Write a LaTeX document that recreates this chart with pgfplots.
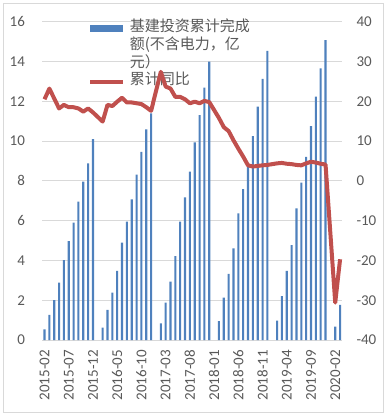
\documentclass[border=0pt]{standalone}
\usepackage{pgfplots}
\usepackage{pgfplotstable}
\pgfplotsset{compat=1.18}
\usepackage{fontspec}
\setmainfont{Carlito}
\newfontfamily\cjk{Noto Sans CJK SC}
\definecolor{barblue}{RGB}{79,129,189}
\definecolor{linered}{RGB}{192,80,77}
\definecolor{gridgray}{RGB}{217,217,217}
\definecolor{txtgray}{RGB}{89,89,89}

\pgfplotstableread{
x y
0 0.54
1 1.26
2 2.00
3 2.88
4 4.02
5 4.97
6 5.90
7 6.95
8 7.96
9 8.88
10 10.10
12 0.62
13 1.51
14 2.38
15 3.47
16 4.89
17 5.95
18 7.07
19 8.31
20 9.46
21 10.59
22 11.39
24 0.84
25 1.88
26 2.93
27 4.22
28 5.95
29 7.17
30 8.46
31 9.93
32 11.31
33 12.68
34 13.99
36 0.95
37 2.13
38 3.32
39 4.61
40 6.37
41 7.59
42 8.71
43 10.25
44 11.73
45 13.12
46 14.53
48 0.97
49 2.21
50 3.48
51 4.77
52 6.62
53 7.91
54 9.21
55 10.75
56 12.23
57 13.65
58 15.08
60 0.67
61 1.76
}\bardata

\pgfplotstableread{
x y
0 20.5
1 23.2
2 20.7
3 18.2
4 19.1
5 18.5
6 18.5
7 18.2
8 17.4
9 18.2
10 17.2
12 14.9
13 19.1
14 18.8
15 19.9
16 20.9
17 19.7
18 19.7
19 19.5
20 19.3
21 18.5
22 17.6
24 27.4
25 23.7
26 23.2
27 21.1
28 21.1
29 20.5
30 19.5
31 19.9
32 19.5
33 20.1
34 19.8
36 15.8
37 13.5
38 12.5
39 10.2
40 8.1
41 6.1
42 3.9
43 3.6
44 3.75
45 3.9
46 4.0
48 4.4
49 4.5
50 4.3
51 4.2
52 4.0
53 3.9
54 4.4
55 4.8
56 4.6
57 4.3
58 4.1
60 -30.6
61 -19.7
}\linedata

\pgfplotsset{
  common/.style={
    at={(0,0)}, anchor=south west,
    scale only axis, width=300.4bp, height=318.3bp,
    xmin=-0.5, xmax=61.5,
    axis line style={draw=none},
    major tick length=0pt,
    tick label style={font=\fontsize{15bp}{18bp}\selectfont, text=txtgray},
    /pgf/number format/assume math mode=true,
  }
}

\begin{document}
\begin{tikzpicture}
\useasboundingbox (-42.1bp,-78bp) rectangle (344.9bp,340bp);
\draw[gridgray, line width=0.8bp] (-39.1bp,-72bp) rectangle (340.9bp,337bp);
\begin{axis}[common,
  ymin=0, ymax=16, ytick={0,2,...,16},
  ymajorgrids, grid style={gridgray, line width=0.8bp},
  xtick={0,5,...,60},
  xticklabels={2015-02,2015-07,2015-12,2016-05,2016-10,2017-03,2017-08,2018-01,2018-06,2018-11,2019-04,2019-09,2020-02},
  xtick pos=bottom, ytick pos=left,
  xticklabel style={rotate=90, anchor=east, inner sep=0pt},
  xticklabel shift=10bp,
  yticklabel style={anchor=east, inner sep=0pt},
  yticklabel shift=17bp,
  legend cell align=left,
  legend style={at={(0.1485,1.007)}, anchor=north west, draw=none, fill=none,
    inner sep=0pt, outer sep=0pt,
    font=\cjk\fontsize{15bp}{17.8bp}\selectfont, text=txtgray,
    row sep=0pt, column sep=3.3bp,
    nodes={inner sep=0pt, text height=12bp, text depth=5.8bp}},
]
\addplot[ybar, bar width=2.1bp, fill=barblue, draw=none, forget plot] table {\bardata};
\addlegendimage{legend image code/.code={\draw[barblue, line width=6.8bp, line cap=butt] (0bp,0bp) -- (33bp,0bp);}}
\addlegendentry{基建投资累计完成}
\addlegendimage{empty legend}
\addlegendentry{额(不含电力，亿}
\addlegendimage{empty legend}
\addlegendentry{元）}
\addlegendimage{legend image code/.code={\draw[linered, line width=4bp] (0bp,0bp) -- (33bp,0bp);}}
\addlegendentry{累计同比}
\end{axis}
\begin{axis}[common,
  ymin=-40, ymax=40, ytick={-40,-30,...,40},
  xtick=\empty,
  ytick pos=right, yticklabel pos=right,
  yticklabel style={anchor=west, inner sep=0pt},
  yticklabel shift=13.8bp,
]
\addplot[linered, line width=4bp, line join=round, mark=none] table {\linedata};
\end{axis}
\end{tikzpicture}
\end{document}
